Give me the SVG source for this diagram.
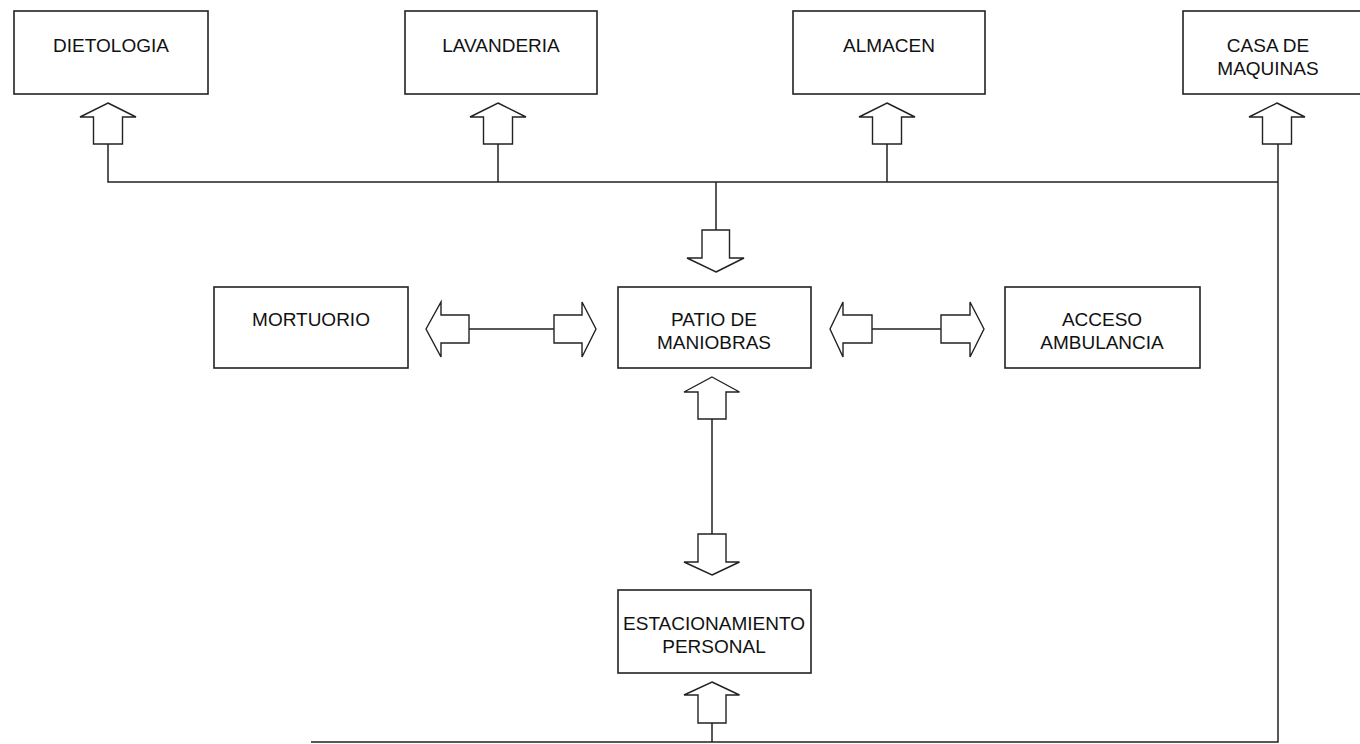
<svg xmlns="http://www.w3.org/2000/svg" width="1360" height="744" viewBox="0 0 1360 744">
  <style>
    .box { fill: #ffffff; stroke: #222222; stroke-width: 1.6; }
    .lbl { font-family: "Liberation Sans", Arial, sans-serif; font-size: 19px; fill: #111111; text-anchor: middle; }
    .wire { fill: none; stroke: #222222; stroke-width: 1.5; }
    .arr { fill: #ffffff; stroke: #222222; stroke-width: 1.4; stroke-linejoin: miter; }
  </style>
  <rect width="1360" height="744" fill="#ffffff"/>

  <!-- Nodes -->
  <g id="dietologia">
    <rect class="box" x="14" y="11" width="194" height="83"/>
    <text class="lbl" x="111" y="52">DIETOLOGIA</text>
  </g>
  <g id="lavanderia">
    <rect class="box" x="405" y="11" width="192" height="83"/>
    <text class="lbl" x="501" y="52">LAVANDERIA</text>
  </g>
  <g id="almacen">
    <rect class="box" x="793" y="11" width="192" height="83"/>
    <text class="lbl" x="889" y="52">ALMACEN</text>
  </g>
  <g id="casa-de-maquinas">
    <rect class="box" x="1183" y="11" width="185" height="83"/>
    <text class="lbl" x="1268" y="52">CASA DE</text>
    <text class="lbl" x="1268" y="75">MAQUINAS</text>
  </g>
  <g id="mortuorio">
    <rect class="box" x="214" y="287" width="194" height="81"/>
    <text class="lbl" x="311" y="326">MORTUORIO</text>
  </g>
  <g id="patio-de-maniobras">
    <rect class="box" x="618" y="287" width="193" height="81"/>
    <text class="lbl" x="714" y="326">PATIO DE</text>
    <text class="lbl" x="714" y="349">MANIOBRAS</text>
  </g>
  <g id="acceso-ambulancia">
    <rect class="box" x="1005" y="287" width="195" height="81"/>
    <text class="lbl" x="1102" y="326">ACCESO</text>
    <text class="lbl" x="1102" y="349">AMBULANCIA</text>
  </g>
  <g id="estacionamiento-personal">
    <rect class="box" x="618" y="590" width="193" height="83"/>
    <text class="lbl" x="714" y="630">ESTACIONAMIENTO</text>
    <text class="lbl" x="714" y="653">PERSONAL</text>
  </g>

  <!-- Connectors -->
  <g id="connectors">
    <!-- service bus along the top -->
    <path class="wire" d="M108 144 V182 H1278 M498 144 V182 M887 144 V182 M1278 144 V742 H311 M716 182 V230"/>
    <!-- patio to parking -->
    <path class="wire" d="M712 419 V534 M712 723 V742"/>
    <!-- side links -->
    <path class="wire" d="M469 329 H554 M872 329 H941"/>

    <!-- up block arrows into the top row -->
    <path class="arr" d="M108 103 L136 117 L122.5 117 L122.5 144 L93.5 144 L93.5 117 L80 117 Z"/>
    <path class="arr" d="M498 103 L526 117 L512.5 117 L512.5 144 L483.5 144 L483.5 117 L470 117 Z"/>
    <path class="arr" d="M887 103 L915 117 L901.5 117 L901.5 144 L872.5 144 L872.5 117 L859 117 Z"/>
    <path class="arr" d="M1277 103 L1305 117 L1291.5 117 L1291.5 144 L1262.5 144 L1262.5 117 L1249 117 Z"/>

    <!-- down into the patio -->
    <path class="arr" d="M716 272 L744 258 L729.5 258 L729.5 230 L702 230 L702 258 L687 258 Z"/>

    <!-- patio / parking pair -->
    <path class="arr" d="M712 377 L739.5 392 L726 392 L726 419 L698 419 L698 392 L684 392 Z"/>
    <path class="arr" d="M712 575 L739.5 562 L726 562 L726 534 L698 534 L698 562 L684 562 Z"/>
    <path class="arr" d="M712 682 L739.5 695 L726 695 L726 723 L698 723 L698 695 L684 695 Z"/>

    <!-- mortuorio / patio pair -->
    <path class="arr" d="M426 329 L441 302 L441 315 L469 315 L469 343 L441 343 L441 357 Z"/>
    <path class="arr" d="M596 329 L582 302 L582 315 L554 315 L554 343 L582 343 L582 357 Z"/>

    <!-- patio / ambulance pair -->
    <path class="arr" d="M830 329 L843 302 L843 315 L872 315 L872 343 L843 343 L843 357 Z"/>
    <path class="arr" d="M984 329 L970 302 L970 315 L941 315 L941 343 L970 343 L970 357 Z"/>
  </g>
</svg>
